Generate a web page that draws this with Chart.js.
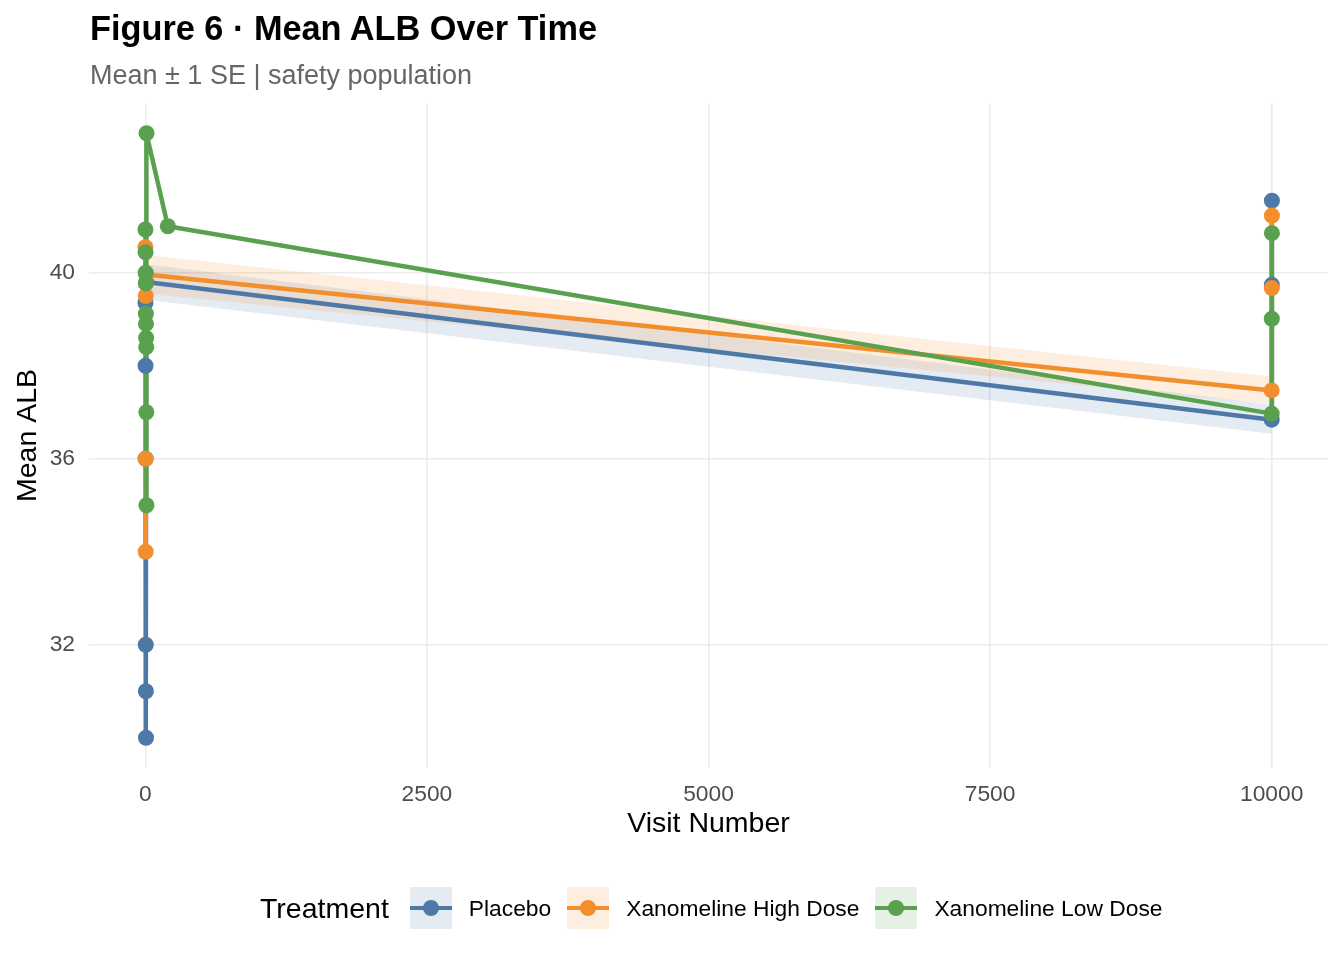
<!DOCTYPE html>
<html>
<head>
<meta charset="utf-8">
<script src="https://cdn.jsdelivr.net/npm/chart.js@4.4.1/dist/chart.umd.min.js"></script>
<style>
  body { margin: 0; background: #fff; font-family: 'Liberation Sans', Arial, sans-serif; }
  #wrap { position: relative; width: 1344px; height: 960px; }
  #title { position: absolute; left: 90px; top: 11px; font-size: 34.3px; line-height: 1; font-weight: bold; color: #000; white-space: nowrap; }
  #subtitle { position: absolute; left: 90px; top: 62px; font-size: 27px; line-height: 1; color: #666; white-space: nowrap; }
  #legend { position: absolute; left: 260px; top: 887px; height: 42px; display: flex; align-items: center; white-space: nowrap; }
  #legend .ttl { font-size: 28.5px; margin-right: 21px; color: #000; }
  #legend .key { position: relative; width: 42px; height: 42px; }
  #legend .key .ln { position: absolute; left: 0; right: 0; top: 19px; height: 4px; }
  #legend .key .pt { position: absolute; left: 13px; top: 13px; width: 16px; height: 16px; border-radius: 50%; }
  #legend .lab { font-size: 22.8px; margin-left: 17px; margin-right: 16px; color: #000; }
</style>
</head>
<body>
<div id="wrap">
  <canvas id="myChart" width="1344" height="960"></canvas>
  <div id="title">Figure 6 · Mean ALB Over Time</div>
  <div id="subtitle">Mean ± 1 SE | safety population</div>
  <div id="legend"></div>
</div>
<script>
// data
const treatments = ['Placebo', 'Xanomeline High Dose', 'Xanomeline Low Dose'];
const colors = ['#4E79A7', '#F28E2B', '#59A14F'];
const keyFills = ['#e4ebf3', '#fdeee0', '#e6f1e5'];

const placeboVisit = [1, 2, 3, 4, 5, 6, 8, 10000, 10001, 10002];
const placeboMean = [39.35, 38.0, 36.0, 32.0, 31.0, 30.0, 39.8, 36.84, 39.74, 41.55];

const highVisit = [1, 2, 3, 4, 8, 10000, 10001, 10002];
const highMean = [40.55, 36.0, 34.0, 39.5, 39.96, 37.47, 39.67, 41.23];

const lowVisit = [1, 2, 3, 4, 5, 6, 7, 8, 9, 10, 11, 200, 10000, 10001, 10002];
const lowMean = [40.93, 40.44, 40.0, 39.77, 39.12, 38.9, 38.6, 38.4, 37.0, 35.0, 43.0, 41.0, 36.97, 39.01, 40.85];

// mean +/- 1 SE band (only where SE exists)
const placeboSeVisit = [8, 10000];
const placeboLower = [39.42, 36.54];
const placeboUpper = [40.18, 37.16];

const highSeVisit = [8, 10000];
const highLower = [39.55, 37.18];
const highUpper = [40.38, 37.77];

const xTicks = [0, 2500, 5000, 7500, 10000];
const yTicks = [32, 36, 40];

const pts = (xs, ys) => xs.map((x, i) => ({ x: x, y: ys[i] }));
const alpha = (hex, a) => {
  const n = parseInt(hex.slice(1), 16);
  return `rgba(${n >> 16}, ${(n >> 8) & 255}, ${n & 255}, ${a})`;
};

const series = [
  [placeboVisit, placeboMean],
  [highVisit, highMean],
  [lowVisit, lowMean]
];
const bands = [
  [placeboSeVisit, placeboLower, placeboUpper, 0],
  [highSeVisit, highLower, highUpper, 1]
];

const datasets = [];
bands.forEach(([xs, lo, hi, k], j) => {
  datasets.push({
    data: pts(xs, lo), borderWidth: 0, borderColor: 'transparent',
    pointRadius: 0, fill: false, order: 20 - j * 2
  });
  datasets.push({
    data: pts(xs, hi), borderWidth: 0, borderColor: 'transparent',
    backgroundColor: alpha(colors[k], 0.15),
    pointRadius: 0, fill: '-1', order: 19 - j * 2
  });
});
// lines first, then points on top (like ggplot layers)
series.forEach(([xs, ys], k) => {
  datasets.push({
    label: treatments[k], data: pts(xs, ys),
    borderColor: colors[k], borderWidth: 4.5, borderJoinStyle: 'round',
    pointRadius: 0, fill: false, tension: 0, order: 10 - k
  });
});
series.forEach(([xs, ys], k) => {
  datasets.push({
    data: pts(xs, ys), showLine: false,
    pointRadius: 8, pointHoverRadius: 8, pointBorderWidth: 0,
    pointBackgroundColor: colors[k], borderColor: colors[k], order: 5 - k
  });
});

Chart.defaults.font.family = "'Liberation Sans', Arial, sans-serif";

const ctx = document.getElementById('myChart').getContext('2d');
new Chart(ctx, {
  type: 'line',
  data: { datasets: datasets },
  options: {
    responsive: false,
    animation: false,
    events: [],
    layout: { padding: { left: 0, right: 16, top: 103, bottom: 119 } },
    plugins: { legend: { display: false }, tooltip: { enabled: false } },
    scales: {
      x: {
        type: 'linear',
        min: -500,
        max: 10500,
        afterBuildTicks: (s) => { s.ticks = xTicks.map(v => ({ value: v })); },
        afterFit: (s) => { s.height = 73; },
        grid: { color: '#ebebeb', lineWidth: 1.6, drawTicks: false },
        border: { display: false },
        ticks: { color: '#4d4d4d', font: { size: 22.8 }, padding: 13, maxRotation: 0, callback: (v) => String(v) },
        title: { display: true, text: 'Visit Number', color: '#000', font: { size: 28.5 }, padding: { top: 0, bottom: 0 } }
      },
      y: {
        type: 'linear',
        min: 29.35,
        max: 43.65,
        afterBuildTicks: (s) => { s.ticks = yTicks.map(v => ({ value: v })); },
        afterFit: (s) => { s.width = 89; },
        grid: { color: '#ebebeb', lineWidth: 1.6, drawTicks: false },
        border: { display: false },
        ticks: { color: '#4d4d4d', font: { size: 22.8 }, padding: 14, callback: (v) => String(v) },
        title: { display: true, text: 'Mean ALB', color: '#000', font: { size: 28.5 }, padding: { top: 11, bottom: 0 } }
      }
    }
  }
});

// legend
const legend = document.getElementById('legend');
let html = '<span class="ttl">Treatment</span>';
treatments.forEach((t, k) => {
  html += `<span class="key" style="background:${keyFills[k]}">` +
    `<span class="ln" style="background:${colors[k]}"></span>` +
    `<span class="pt" style="background:${colors[k]}"></span></span>` +
    `<span class="lab">${t}</span>`;
});
legend.innerHTML = html;
</script>
</body>
</html>
